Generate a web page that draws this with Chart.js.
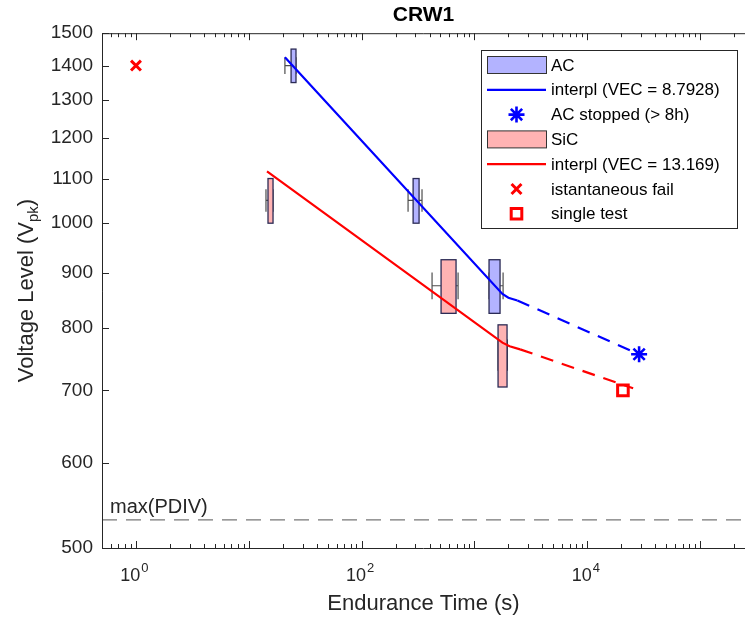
<!DOCTYPE html>
<html>
<head>
<meta charset="utf-8">
<script src="https://cdn.jsdelivr.net/npm/chart.js@4.4.1/dist/chart.umd.min.js"></script>
<style>
    html, body { margin: 0; padding: 0; background: #fff; }
</style>
</head>
<body>
<canvas id="grafica" width="745" height="619"></canvas>
<script>
// ---- datos ----
const xTicks = [1, 100, 10000];
const yTicks = [500, 600, 700, 800, 900, 1000, 1100, 1200, 1300, 1400, 1500];

// cajas AC (tiempo en s, tension en Vpk)
const acWhiskerLo = [20.9, 258, 1347];
const acBoxLo     = [23.7, 286, 1347];
const acBoxHi     = [26.2, 323, 1686];
const acWhiskerHi = [26.2, 343, 1794];
const acVolt      = [1400, 1050, 875];

// cajas SiC
const sicWhiskerLo = [14.2, 421, 1619];
const sicBoxLo     = [14.8, 506, 1619];
const sicBoxHi     = [16.4, 687, 1945];
const sicWhiskerHi = [16.4, 716, 1960];
const sicVolt      = [1050, 875, 755];

const boxHalfVolt = 50;
const capHalfVolt = 25;

const acVec = 8.7928;
const sicVec = 13.169;

const acInterpTime = [20.9, 1770, 2000, 2400];
const acInterpVolt = [1425, 860, 853, 848];
const acExtrapTime = [2400, 28800];
const acExtrapVolt = [848, 756];
const acStoppedTime = [28800];
const acStoppedVolt = [756];

const sicInterpTime = [14.5, 1770, 2050, 2540];
const sicInterpVolt = [1117, 775, 769, 764];
const sicExtrapTime = [2540, 25500];
const sicExtrapVolt = [764, 703];

const failTime = [1];
const failVolt = [1400];
const singleTime = [20700];
const singleVolt = [700];

const pdivVolt = 531;
const xMin = 0.5, xMax = 2.5e5;
const yMin = 500, yMax = 1500;

const legendLabels = ['AC', 'interpl (VEC = ' + acVec + ')', 'AC stopped (> 8h)', 'SiC',
    'interpl (VEC = ' + sicVec + ')', 'istantaneous fail', 'single test'];

// ---- estilos ----
const FONT = "'Liberation Sans', Arial, Helvetica, sans-serif";
const TXT = '#262626';
const BLUE = 'rgb(0,0,255)';
const RED = 'rgb(255,0,0)';
const acFill = 'rgb(179,179,255)';
const sicFill = 'rgb(255,179,179)';
const boxEdge = '#2b2b55';
const whiskerColor = '#4d4d4d';

const pts = (ts, vs) => ts.map((t, i) => ({x: t, y: vs[i]}));

const datasets = [
    {label: 'pdiv', data: pts([xMin, xMax], [pdivVolt, pdivVolt]), showLine: true,
        borderColor: '#777', borderWidth: 1.3, borderDash: [15, 9], pointRadius: 0},
    {label: 'ac interp', data: pts(acInterpTime, acInterpVolt), showLine: true,
        borderColor: BLUE, borderWidth: 2.2, pointRadius: 0},
    {label: 'ac extrap', data: pts(acExtrapTime, acExtrapVolt), showLine: true,
        borderColor: BLUE, borderWidth: 2.2, borderDash: [13, 9], pointRadius: 0},
    {label: 'sic interp', data: pts(sicInterpTime, sicInterpVolt), showLine: true,
        borderColor: RED, borderWidth: 2.2, pointRadius: 0},
    {label: 'sic extrap', data: pts(sicExtrapTime, sicExtrapVolt), showLine: true,
        borderColor: RED, borderWidth: 2.2, borderDash: [13, 9], pointRadius: 0},
    {label: 'ac stopped', data: pts(acStoppedTime, acStoppedVolt), showLine: false,
        pointStyle: 'star', pointRadius: 8, borderColor: BLUE, borderWidth: 2.6},
    {label: 'fail', data: pts(failTime, failVolt), showLine: false,
        pointStyle: 'crossRot', pointRadius: 7, borderColor: RED, borderWidth: 3},
    {label: 'single', data: pts(singleTime, singleVolt), showLine: false,
        pointStyle: 'rect', pointRadius: 7.5, borderColor: RED, borderWidth: 3,
        backgroundColor: 'rgba(255,255,255,0)'}
];

function drawBoxes(ctx, sx, sy, lo, q1, q3, hi, volt, fill) {
    for (let i = 0; i < volt.length; i++) {
        const yc = sy.getPixelForValue(volt[i]);
        const yTop = sy.getPixelForValue(volt[i] + boxHalfVolt);
        const yBot = sy.getPixelForValue(volt[i] - boxHalfVolt);
        const cTop = sy.getPixelForValue(volt[i] + capHalfVolt);
        const cBot = sy.getPixelForValue(volt[i] - capHalfVolt);
        const xLo = sx.getPixelForValue(lo[i]);
        const x1 = sx.getPixelForValue(q1[i]);
        const x3 = sx.getPixelForValue(q3[i]);
        const xHi = sx.getPixelForValue(hi[i]);
        ctx.strokeStyle = whiskerColor;
        ctx.lineWidth = 1.2;
        ctx.beginPath();
        ctx.moveTo(xLo, yc); ctx.lineTo(x1, yc);
        ctx.moveTo(x3, yc); ctx.lineTo(xHi, yc);
        ctx.moveTo(xLo, cTop); ctx.lineTo(xLo, cBot);
        ctx.moveTo(xHi, cTop); ctx.lineTo(xHi, cBot);
        ctx.stroke();
        ctx.fillStyle = fill;
        ctx.fillRect(x1, yTop, x3 - x1, yBot - yTop);
        ctx.strokeStyle = boxEdge;
        ctx.lineWidth = 1.3;
        ctx.strokeRect(x1, yTop, x3 - x1, yBot - yTop);
    }
}

const cajas = {
    id: 'cajas',
    beforeDatasetsDraw(chart) {
        const {ctx, chartArea: a, scales: {x, y}} = chart;
        ctx.save();
        ctx.beginPath();
        ctx.rect(a.left, a.top, a.right - a.left, a.bottom - a.top);
        ctx.clip();
        drawBoxes(ctx, x, y, acWhiskerLo, acBoxLo, acBoxHi, acWhiskerHi, acVolt, acFill);
        drawBoxes(ctx, x, y, sicWhiskerLo, sicBoxLo, sicBoxHi, sicWhiskerHi, sicVolt, sicFill);
        ctx.restore();
    }
};

function marker(ctx, style, cx, cy, r, color, lw) {
    ctx.save();
    ctx.strokeStyle = color;
    ctx.lineWidth = lw;
    ctx.beginPath();
    if (style === 'star' || style === 'cross') {
        ctx.moveTo(cx - r, cy); ctx.lineTo(cx + r, cy);
        ctx.moveTo(cx, cy - r); ctx.lineTo(cx, cy + r);
    }
    if (style === 'star' || style === 'crossRot') {
        const d = r * Math.SQRT1_2;
        ctx.moveTo(cx - d, cy - d); ctx.lineTo(cx + d, cy + d);
        ctx.moveTo(cx - d, cy + d); ctx.lineTo(cx + d, cy - d);
    }
    if (style === 'rect') {
        const s = r * Math.SQRT1_2;
        ctx.rect(cx - s, cy - s, 2 * s, 2 * s);
    }
    ctx.stroke();
    ctx.restore();
}

const ejes = {
    id: 'ejes',
    afterDraw(chart) {
        const {ctx, chartArea: a, scales: {x, y}} = chart;
        ctx.save();
        // etiqueta linea PDIV
        ctx.fillStyle = TXT;
        ctx.font = '20px ' + FONT;
        ctx.textAlign = 'left';
        ctx.textBaseline = 'alphabetic';
        ctx.fillText('max(PDIV)', a.left + 8, y.getPixelForValue(pdivVolt) - 7);

        // etiquetas eje x: 10 con exponente
        xTicks.forEach(v => {
            const px = x.getPixelForValue(v);
            const ex = String(Math.round(Math.log10(v)));
            ctx.font = '18px ' + FONT;
            const wb = ctx.measureText('10').width;
            ctx.font = '13px ' + FONT;
            const we = ctx.measureText(ex).width;
            const start = px - (wb + we) / 2 - 2;
            ctx.font = '18px ' + FONT;
            ctx.fillText('10', start, a.bottom + 33);
            ctx.font = '13px ' + FONT;
            ctx.fillText(ex, start + wb + 1, a.bottom + 24);
        });

        // marco (el lado derecho queda fuera de la imagen)
        ctx.strokeStyle = TXT;
        ctx.lineWidth = 1;
        ctx.beginPath();
        ctx.moveTo(a.left + 0.5, a.bottom + 0.5);
        ctx.lineTo(a.left + 0.5, a.top + 0.5);
        ctx.lineTo(a.right, a.top + 0.5);
        ctx.moveTo(a.left, a.bottom + 0.5);
        ctx.lineTo(a.right, a.bottom + 0.5);
        ctx.stroke();

        // marcas hacia dentro
        ctx.beginPath();
        for (let e = -1; e <= 5; e++) {
            for (let m = 1; m <= 9; m++) {
                const v = m * Math.pow(10, e);
                if (v < xMin || v > xMax) continue;
                const px = Math.round(x.getPixelForValue(v)) + 0.5;
                const len = m === 1 ? 7 : 4;
                ctx.moveTo(px, a.bottom); ctx.lineTo(px, a.bottom - len);
                ctx.moveTo(px, a.top); ctx.lineTo(px, a.top + len);
            }
        }
        yTicks.forEach(v => {
            const py = Math.round(y.getPixelForValue(v)) + 0.5;
            ctx.moveTo(a.left, py); ctx.lineTo(a.left + 7, py);
        });
        ctx.stroke();

        // titulo eje y con subindice
        const big = '22px ' + FONT, small = '15px ' + FONT;
        ctx.font = big;
        const w1 = ctx.measureText('Voltage Level (V').width;
        const w3 = ctx.measureText(')').width;
        ctx.font = small;
        const w2 = ctx.measureText('pk').width;
        const total = w1 + w2 + w3;
        ctx.translate(27, (a.top + a.bottom) / 2);
        ctx.rotate(-Math.PI / 2);
        ctx.textBaseline = 'middle';
        ctx.textAlign = 'left';
        let cx = -total / 2;
        ctx.font = big;
        ctx.fillText('Voltage Level (V', cx, 0);
        cx += w1;
        ctx.font = small;
        ctx.fillText('pk', cx, 7);
        cx += w2;
        ctx.font = big;
        ctx.fillText(')', cx, 0);
        ctx.restore();

        // leyenda
        const L = {left: 481, top: 50, right: 737, bottom: 228};
        ctx.save();
        ctx.fillStyle = '#fff';
        ctx.fillRect(L.left, L.top, L.right - L.left, L.bottom - L.top);
        ctx.strokeStyle = TXT;
        ctx.lineWidth = 1;
        ctx.strokeRect(L.left + 0.5, L.top + 0.5, L.right - L.left, L.bottom - L.top);
        const x0 = 487, x1 = 546, xm = (x0 + x1) / 2, xt = 551;
        const rowY = i => 65 + i * 24.8;
        ctx.font = '17px ' + FONT;
        ctx.textBaseline = 'middle';
        ctx.textAlign = 'left';
        legendLabels.forEach((lab, i) => {
            const yy = rowY(i);
            if (i === 0 || i === 3) {
                ctx.fillStyle = i === 0 ? acFill : sicFill;
                ctx.fillRect(x0, yy - 8.5, x1 - x0, 17);
                ctx.strokeStyle = '#333';
                ctx.lineWidth = 1;
                ctx.strokeRect(x0 + 0.5, yy - 8.5, x1 - x0, 17);
            } else if (i === 1 || i === 4) {
                ctx.strokeStyle = i === 1 ? BLUE : RED;
                ctx.lineWidth = 2.2;
                ctx.beginPath();
                ctx.moveTo(x0, yy); ctx.lineTo(x1, yy);
                ctx.stroke();
            } else if (i === 2) {
                marker(ctx, 'star', xm, yy, 8, BLUE, 2.6);
            } else if (i === 5) {
                marker(ctx, 'crossRot', xm, yy, 7, RED, 3);
            } else {
                marker(ctx, 'rect', xm, yy, 7.5, RED, 3);
            }
            ctx.fillStyle = '#000';
            ctx.fillText(lab, xt, yy + 1);
        });
        ctx.restore();
    }
};

const $grafica = document.querySelector('#grafica');
new Chart($grafica, {
    type: 'scatter',
    data: {datasets: datasets},
    plugins: [cajas, ejes],
    options: {
        responsive: false,
        devicePixelRatio: 1,
        animation: false,
        layout: {autoPadding: false, padding: {left: 0, right: 0, top: 0, bottom: 0}},
        plugins: {
            legend: {display: false},
            tooltip: {enabled: false},
            title: {
                display: true,
                text: 'CRW1',
                fullSize: false,
                color: '#000',
                font: {family: FONT, size: 21, weight: 'bold'},
                padding: {top: 3, bottom: 5}
            }
        },
        scales: {
            x: {
                type: 'logarithmic',
                min: xMin,
                max: xMax,
                grid: {display: false},
                border: {display: false},
                afterBuildTicks: axis => { axis.ticks = xTicks.map(v => ({value: v})); },
                afterFit: scale => { scale.height = 71; },
                ticks: {display: false},
                title: {
                    display: true,
                    text: 'Endurance Time (s)',
                    color: TXT,
                    font: {family: FONT, size: 22},
                    padding: {top: 0, bottom: 2}
                }
            },
            y: {
                type: 'logarithmic',
                min: yMin,
                max: yMax,
                grid: {display: false},
                border: {display: false},
                afterBuildTicks: axis => { axis.ticks = yTicks.map(v => ({value: v})); },
                afterFit: scale => { scale.width = 102; },
                ticks: {
                    autoSkip: false,
                    padding: 1,
                    color: TXT,
                    font: {family: FONT, size: 19},
                    callback: v => String(v)
                }
            }
        }
    }
});
</script>
</body>
</html>
